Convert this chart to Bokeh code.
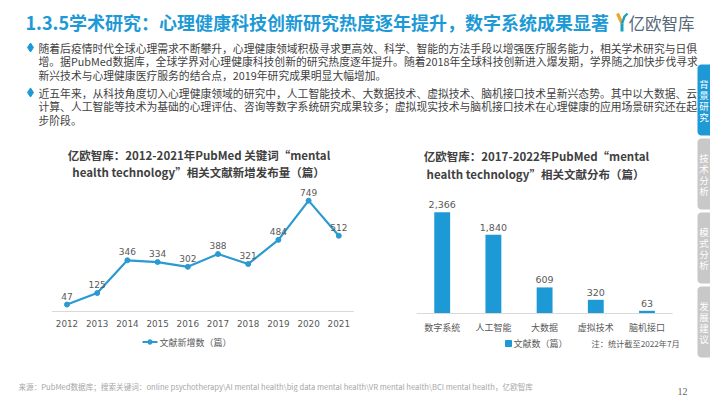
import numpy as np
from bokeh.plotting import figure
from bokeh.models import Range1d, ColumnDataSource
from bokeh.core.properties import value
from bokeh.embed import file_html
from bokeh.resources import INLINE

# ---------------- data ----------------
title_text = "1.3.5学术研究：心理健康科技创新研究热度逐年提升，数字系统成果显著"
logo_text = "亿欧智库"
para1 = [
    "随着后疫情时代全球心理需求不断攀升，心理健康领域积极寻求更高效、科学、智能的方法手段以增强医疗服务能力，相关学术研究与日俱",
    "增。据PubMed数据库，全球学界对心理健康科技创新的研究热度逐年提升。随着2018年全球科技创新进入爆发期，学界随之加快步伐寻求",
    "新兴技术与心理健康医疗服务的结合点，2019年研究成果明显大幅增加。",
]
para2 = [
    "近五年来，从科技角度切入心理健康领域的研究中，人工智能技术、大数据技术、虚拟技术、脑机接口技术呈新兴态势。其中以大数据、云",
    "计算、人工智能等技术为基础的心理评估、咨询等数字系统研究成果较多；虚拟现实技术与脑机接口技术在心理健康的应用场景研究还在起",
    "步阶段。",
]
line_title = ["亿欧智库：2012-2021年PubMed 关键词“mental",
              "health technology”相关文献新增发布量（篇）"]
years = [2012, 2013, 2014, 2015, 2016, 2017, 2018, 2019, 2020, 2021]
year_labels = ["2012", "2013", "2014", "2015", "2016", "2017", "2018", "2019", "2020", "2021"]
new_papers = [47, 125, 346, 334, 302, 388, 321, 484, 749, 512]
line_legend = "文献新增数（篇）"

bar_title = ["亿欧智库：2017-2022年PubMed“mental",
             "health technology”相关文献分布（篇）"]
tech_cats = ["数字系统", "人工智能", "大数据", "虚拟技术", "脑机接口"]
tech_papers = [2366, 1840, 609, 320, 63]
bar_legend = "文献数（篇）"
bar_note = "注：统计截至2022年7月"

tabs = ["背景研究", "技术分析", "模式分析", "发展建议"]
source_text = ("来源：PubMed数据库；搜索关键词：online psychotherapy\\AI mental health\\big data "
               "mental health\\VR mental health\\BCI mental health，亿欧智库")
page_no = "12"

# ---------------- styles ----------------
CJK = value("Noto Sans CJK SC")
NUM = value("DejaVu Sans")
BLUE = "#1d9ad6"
LINE_BLUE = "#2a9ad0"
GREY_TXT = "#595959"
BODY_TXT = "#3f3f3f"

W, H, M = 710, 399, 0
p = figure(width=W, height=H, x_range=Range1d(M, M + W), y_range=Range1d(M + H, M),
           output_backend="svg", toolbar_location=None, min_border=0,
           x_axis_location=None, y_axis_location=None)
p.grid.visible = False
p.outline_line_color = None
p.background_fill_color = "white"
p.border_fill_color = "white"

# ---------------- header ----------------
p.text(x=[25], y=[21], text=[title_text], text_font=CJK, text_font_size="18px",
       text_font_style="bold", text_color=BLUE, text_baseline="middle")
# logo mark
p.line(x=[617, 621.5], y=[13, 23], line_color="#f2a32c", line_width=3.2)
p.line(x=[621.5, 621.5], y=[23, 31], line_color="#1a9fc4", line_width=3)
p.line(x=[621.5, 624, 627], y=[23, 16, 13], line_color="#1a9fc4", line_width=2.4)
p.text(x=[628], y=[22], text=[logo_text], text_font=CJK, text_font_size="16.5px",
       text_color="#56687a", text_baseline="middle")

# bullets + paragraphs
p.scatter(x=[30, 30], y=[47, 92], marker="diamond", size=9, fill_color=BLUE, line_color=BLUE)
for ys, lines in (((47, 60.5, 74), para1), ((92, 105.5, 119), para2)):
    p.text(x=[38] * len(lines), y=list(ys), text=lines, text_font=CJK,
           text_font_size="10.8px", text_color=BODY_TXT, text_baseline="middle")

# ---------------- left chart: line ----------------
L_X0, L_DX, L_Y0, L_K = 66.5, 30.2, 311.0, 0.148
lx0 = years[0] - (L_X0 - M) / L_DX
p.extra_x_ranges["lx"] = Range1d(lx0, lx0 + W / L_DX)
ly1 = (L_Y0 - M) / L_K
p.extra_y_ranges["ly"] = Range1d(ly1 - H / L_K, ly1)

lsrc = ColumnDataSource(dict(year=years, n=new_papers, lab=[str(v) for v in new_papers], ylab=year_labels))
p.segment(x0=[years[0] - 0.5], x1=[years[-1] + 0.5], y0=[0], y1=[0], x_range_name="lx",
          y_range_name="ly", line_color="#d9d9d9", line_width=1)
p.line(x="year", y="n", source=lsrc, x_range_name="lx", y_range_name="ly",
       line_color=LINE_BLUE, line_width=2.2)
p.scatter(x="year", y="n", source=lsrc, x_range_name="lx", y_range_name="ly",
          size=5, fill_color=LINE_BLUE, line_color=LINE_BLUE)
p.text(x="year", y="n", text="lab", source=lsrc, x_range_name="lx", y_range_name="ly",
       y_offset=-5, text_align="center", text_baseline="bottom", text_font=NUM,
       text_font_size="9px", text_color=GREY_TXT)
p.text(x="year", y=0, text="ylab", source=lsrc, x_range_name="lx", y_range_name="ly",
       y_offset=12, text_align="center", text_baseline="middle", text_font=NUM,
       text_font_size="8.8px", text_color=GREY_TXT)
p.text(x=[198.5, 198], y=[154, 171.5], text=line_title, text_font=CJK, text_font_size="11.5px",
       text_font_style="bold", text_color="#404040", text_align="center", text_baseline="middle")
# legend
p.line(x=[142, 157], y=[341.5, 341.5], line_color=LINE_BLUE, line_width=2)
p.scatter(x=[149.5], y=[341.5], size=4.5, fill_color=LINE_BLUE, line_color=LINE_BLUE)
p.text(x=[159], y=[342], text=[line_legend], text_font=CJK, text_font_size="9px",
       text_color=GREY_TXT, text_baseline="middle")

# ---------------- right chart: bars ----------------
R_X0, R_DX, R_Y0, R_K = 441.7, 51.2, 313.0, 101.3 / 2366
idx = list(range(len(tech_cats)))
rx0 = idx[0] - (R_X0 - M) / R_DX
p.extra_x_ranges["rx"] = Range1d(rx0, rx0 + W / R_DX)
ry1 = (R_Y0 - M) / R_K
p.extra_y_ranges["ry"] = Range1d(ry1 - H / R_K, ry1)

bsrc = ColumnDataSource(dict(i=idx, n=tech_papers, lab=[f"{v:,}" for v in tech_papers], cat=tech_cats))
p.vbar(x="i", top="n", bottom=0, width=0.31, source=bsrc, x_range_name="rx", y_range_name="ry",
       fill_color=BLUE, line_color=None)
p.segment(x0=[idx[0] - 0.5], x1=[idx[-1] + 0.5], y0=[0], y1=[0], x_range_name="rx",
          y_range_name="ry", line_color="#d9d9d9", line_width=1)
p.text(x="i", y="n", text="lab", source=bsrc, x_range_name="rx", y_range_name="ry",
       y_offset=-4, text_align="center", text_baseline="bottom", text_font=NUM,
       text_font_size="9.5px", text_color=GREY_TXT)
p.text(x="i", y=0, text="cat", source=bsrc, x_range_name="rx", y_range_name="ry",
       y_offset=14, text_align="center", text_baseline="middle", text_font=CJK,
       text_font_size="9px", text_color=GREY_TXT)
p.text(x=[536, 535], y=[155, 173], text=bar_title, text_font=CJK, text_font_size="11.5px",
       text_font_style="bold", text_color="#404040", text_align="center", text_baseline="middle")
p.scatter(x=[508], y=[343], marker="square", size=6, fill_color=BLUE, line_color=BLUE)
p.text(x=[513], y=[343], text=[bar_legend], text_font=CJK, text_font_size="9px",
       text_color=GREY_TXT, text_baseline="middle")
p.text(x=[591], y=[342], text=[bar_note], text_font=CJK, text_font_size="8.2px",
       text_color=GREY_TXT, text_baseline="middle")

# ---------------- side tabs ----------------
def left_rounded(x0, x1, y0, y1, r, n=8):
    a1 = np.linspace(np.pi, 1.5 * np.pi, n)
    a2 = np.linspace(0.5 * np.pi, np.pi, n)
    xs = list(x0 + r + r * np.cos(a1)) + [x1, x1] + list(x0 + r + r * np.cos(a2))
    ys = list(y0 + r + r * np.sin(a1)) + [y0, y1] + list(y1 - r + r * np.sin(a2))
    return xs, ys

tab_x0, tab_x1, tab_top, tab_h, tab_gap = 697, 712, 64, 71, 3
for k, name in enumerate(tabs):
    y0 = tab_top + k * (tab_h + tab_gap)
    xs, ys = left_rounded(tab_x0, tab_x1, y0, y0 + tab_h, 4)
    p.patch(xs, ys, fill_color=BLUE if k == 0 else "#c8c8c8", line_color=None)
    cy = y0 + tab_h / 2
    p.text(x=[tab_x0 + 6.5] * len(name), y=[cy + (j - 1.5) * 11 for j in range(len(name))],
           text=list(name), text_font=CJK, text_font_size="9.5px", text_color="white",
           text_align="center", text_baseline="middle")

# ---------------- footer ----------------
p.text(x=[18], y=[386], text=[source_text], text_font=CJK, text_font_size="7.6px",
       text_color="#a6a6a6", text_baseline="middle")
p.text(x=[677], y=[391], text=[page_no], text_font=value("Liberation Serif"), text_font_size="10px",
       text_color="#666666", text_baseline="middle")

open("out.html", "w").write(file_html(p, INLINE))
